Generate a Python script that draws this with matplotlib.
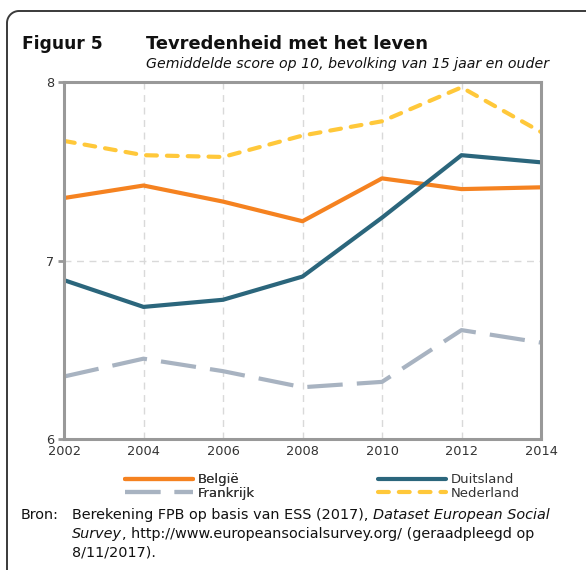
import numpy as np
import matplotlib.pyplot as plt
from matplotlib.lines import Line2D

years = [2002, 2004, 2006, 2008, 2010, 2012, 2014]
belgie = [7.35, 7.42, 7.33, 7.22, 7.46, 7.40, 7.41]
duitsland = [6.89, 6.74, 6.78, 6.91, 7.24, 7.59, 7.55]
frankrijk = [6.35, 6.45, 6.38, 6.29, 6.32, 6.61, 6.54]
nederland = [7.67, 7.59, 7.58, 7.70, 7.78, 7.97, 7.72]

plt.rcParams['font.family'] = 'DejaVu Sans'

fig = plt.figure(figsize=(5.86, 5.70), dpi=100)
W, H = 586, 570

def fx(px):
    return px / W

def fy(py):
    return 1 - py / H

# outer frame: top and left edge with a rounded corner
r = 12
cx, cy = 7 + r, 11 + r
ang = np.linspace(np.pi, 1.5 * np.pi, 20)
px = [7] + list(cx + r * np.cos(ang)) + [590]
py = [575] + list(cy + r * np.sin(ang)) + [11]
fig.add_artist(Line2D([fx(v) for v in px], [fy(v) for v in py],
                      transform=fig.transFigure, color='#3a3a3a', lw=1.4))

ax = fig.add_axes([fx(64), fy(439), fx(541) - fx(64), fy(82) - fy(439)])

l_be, = ax.plot(years, belgie, color='#F58220', lw=3, solid_capstyle='round', label='België')
l_fr, = ax.plot(years, frankrijk, color='#A8B3C1', lw=3, dashes=(8.5, 3.4),
                dash_capstyle='butt', label='Frankrijk')
l_du, = ax.plot(years, duitsland, color='#2B667C', lw=3, solid_capstyle='round', label='Duitsland')
l_ne, = ax.plot(years, nederland, color='#FFC83A', lw=3, dashes=(2.6, 2.4),
                dash_capstyle='round', label='Nederland')

ax.set_xlim(2002, 2014)
ax.set_ylim(6, 8)
ax.set_xticks(years)
ax.set_yticks([6, 7, 8])
ax.grid(True, color='#D9D9D9', linestyle=(0, (5, 4)), linewidth=1)
ax.set_axisbelow(True)
for s in ax.spines.values():
    s.set_color('#999999')
    s.set_linewidth(2.2)
ax.tick_params(axis='x', length=0, pad=4, labelsize=9.3, colors='#333333')
ax.tick_params(axis='y', length=4, width=2, color='#999999', pad=3, labelsize=9.3,
               labelcolor='#333333')

fig.text(fx(22), fy(44), 'Figuur 5', fontsize=12.3, fontweight='bold', va='center', color='#111111')
fig.text(fx(146), fy(44), 'Tevredenheid met het leven', fontsize=12.9, fontweight='bold',
         va='center', color='#111111')
fig.text(fx(146), fy(64), 'Gemiddelde score op 10, bevolking van 15 jaar en ouder',
         fontsize=10.2, style='italic', va='center', color='#111111')

# legend: two columns, placed separately
leg_kw = dict(loc='center left', frameon=False, fontsize=9.5, handlelength=5.15,
              handletextpad=0.4, labelspacing=0.05, borderaxespad=0, borderpad=0,
              labelcolor='#333333')
leg1 = fig.legend([l_be, l_fr], ['België', 'Frankrijk'],
                  bbox_to_anchor=(fx(125), fy(486.5)), **leg_kw)
fig.add_artist(leg1)
fig.legend([l_du, l_ne], ['Duitsland', 'Nederland'],
           bbox_to_anchor=(fx(378), fy(486.5)), **leg_kw)

# source text
fs = 10.4
fig.text(fx(21), fy(515), 'Bron:', fontsize=fs, va='center', color='#111111')
fig.canvas.draw()
renderer = fig.canvas.get_renderer()

def run(x, y, parts):
    for txt, st in parts:
        t = fig.text(fx(x), fy(y), txt, fontsize=fs, style=st, va='center', color='#111111')
        bb = t.get_window_extent(renderer=renderer)
        x += bb.width

run(72, 515, [('Berekening FPB op basis van ESS (2017), ', 'normal'),
              ('Dataset European Social', 'italic')])
run(72, 534, [('Survey', 'italic'),
              (', http://www.europeansocialsurvey.org/ (geraadpleegd op', 'normal')])
run(72, 553, [('8/11/2017).', 'normal')])

fig.savefig('out.png', dpi=100)
